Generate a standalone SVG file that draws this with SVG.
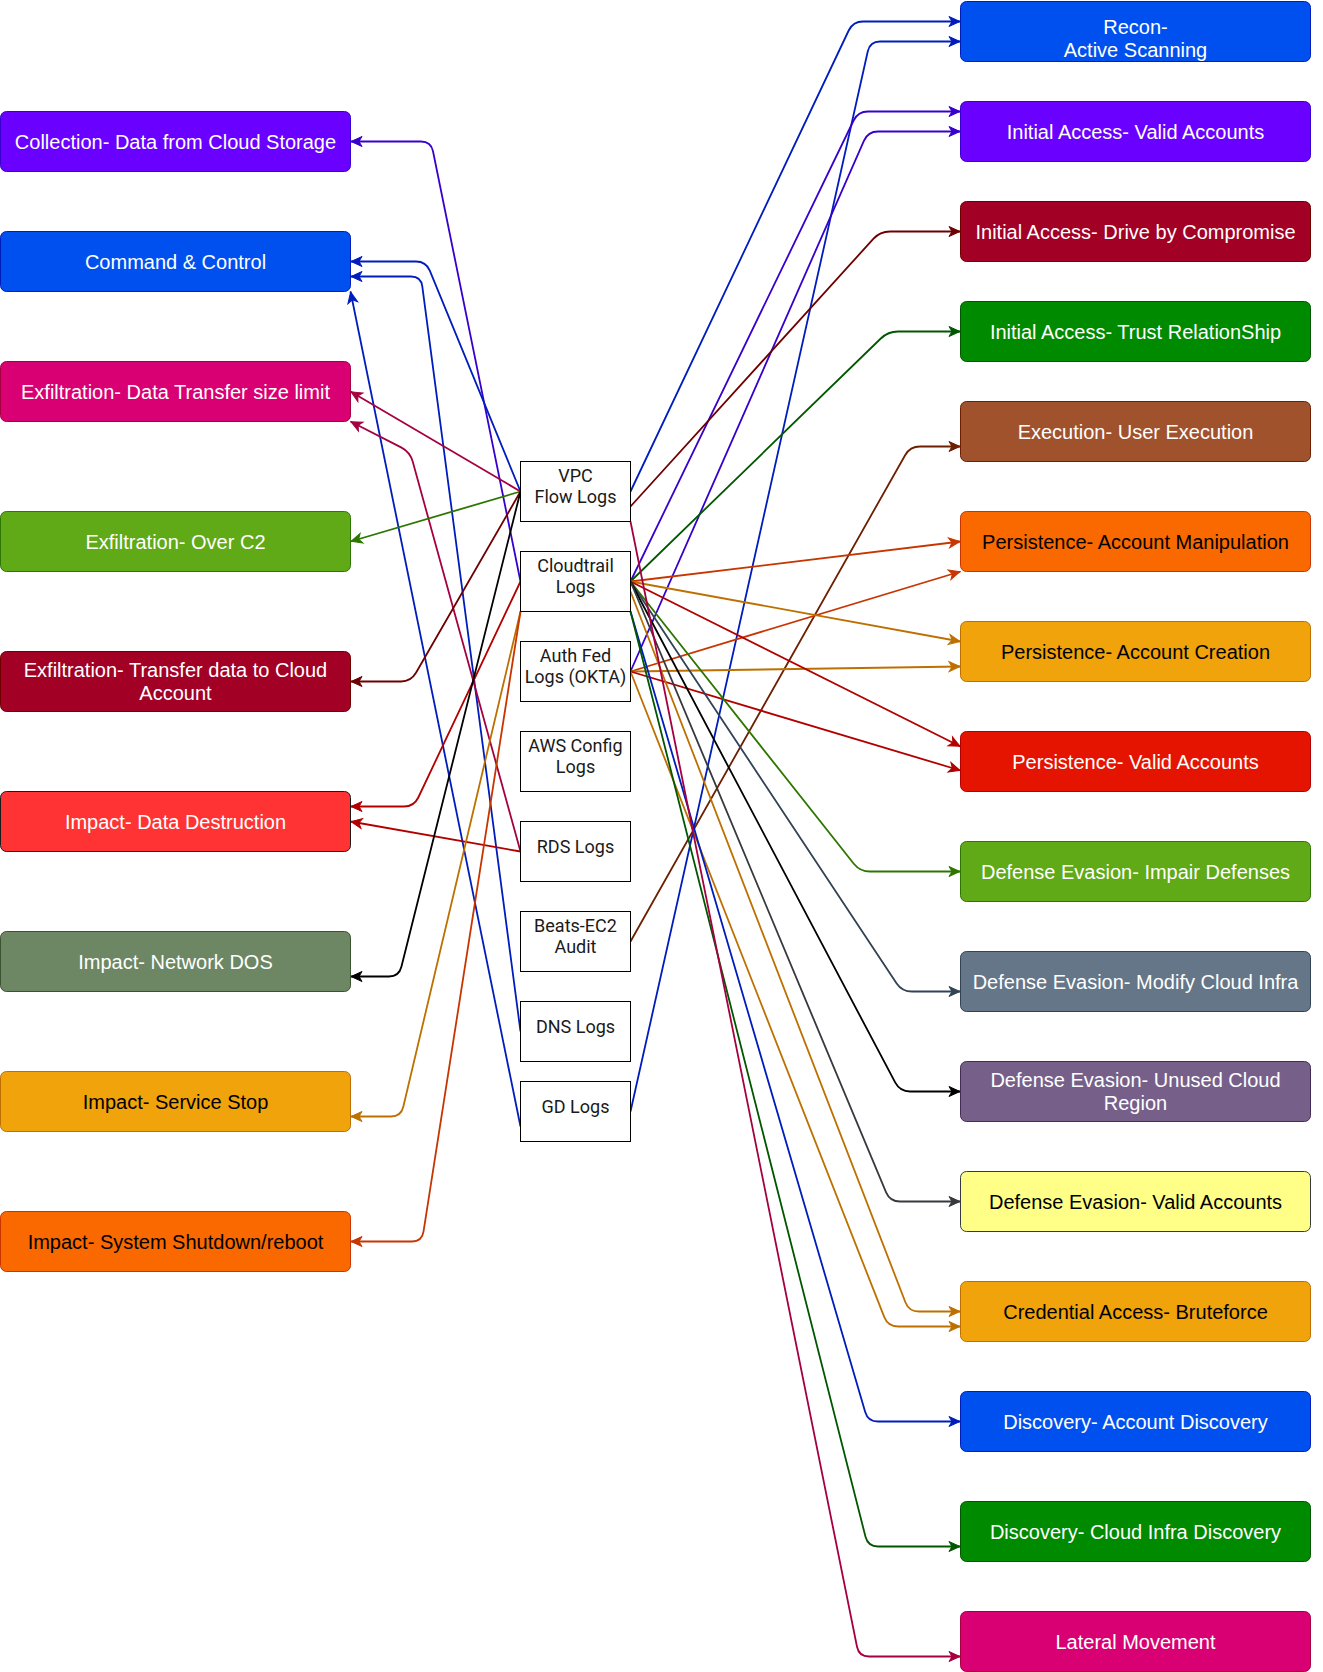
<svg xmlns="http://www.w3.org/2000/svg" width="1323" height="1672" viewBox="0 0 1323 1672">
<style>
.e{fill:none;stroke-width:1.8}
.t{font-family:"Liberation Sans",Arial,sans-serif;font-size:20px;text-anchor:middle}
.w{fill:#ffffff}
.k{fill:#000000}
.c rect{fill:#ffffff;stroke:#000000;stroke-width:1}
.c text{font-family:Roboto,"Liberation Sans",sans-serif;font-size:18px;text-anchor:middle;fill:#1a1a1a}
</style>
<defs>
<marker id="m3700CC" viewBox="-13 -7 14 14" refX="0" refY="0" markerWidth="14" markerHeight="14" markerUnits="userSpaceOnUse" orient="auto"><path d="M-0.5,0 L-11.5,-5 L-8.5,0 L-11.5,5 Z" fill="#3700CC" stroke="#3700CC"/></marker>
<marker id="m001DBC" viewBox="-13 -7 14 14" refX="0" refY="0" markerWidth="14" markerHeight="14" markerUnits="userSpaceOnUse" orient="auto"><path d="M-0.5,0 L-11.5,-5 L-8.5,0 L-11.5,5 Z" fill="#001DBC" stroke="#001DBC"/></marker>
<marker id="mA50040" viewBox="-13 -7 14 14" refX="0" refY="0" markerWidth="14" markerHeight="14" markerUnits="userSpaceOnUse" orient="auto"><path d="M-0.5,0 L-11.5,-5 L-8.5,0 L-11.5,5 Z" fill="#A50040" stroke="#A50040"/></marker>
<marker id="m2D7600" viewBox="-13 -7 14 14" refX="0" refY="0" markerWidth="14" markerHeight="14" markerUnits="userSpaceOnUse" orient="auto"><path d="M-0.5,0 L-11.5,-5 L-8.5,0 L-11.5,5 Z" fill="#2D7600" stroke="#2D7600"/></marker>
<marker id="m6F0000" viewBox="-13 -7 14 14" refX="0" refY="0" markerWidth="14" markerHeight="14" markerUnits="userSpaceOnUse" orient="auto"><path d="M-0.5,0 L-11.5,-5 L-8.5,0 L-11.5,5 Z" fill="#6F0000" stroke="#6F0000"/></marker>
<marker id="mB20000" viewBox="-13 -7 14 14" refX="0" refY="0" markerWidth="14" markerHeight="14" markerUnits="userSpaceOnUse" orient="auto"><path d="M-0.5,0 L-11.5,-5 L-8.5,0 L-11.5,5 Z" fill="#B20000" stroke="#B20000"/></marker>
<marker id="m000000" viewBox="-13 -7 14 14" refX="0" refY="0" markerWidth="14" markerHeight="14" markerUnits="userSpaceOnUse" orient="auto"><path d="M-0.5,0 L-11.5,-5 L-8.5,0 L-11.5,5 Z" fill="#000000" stroke="#000000"/></marker>
<marker id="mBD7000" viewBox="-13 -7 14 14" refX="0" refY="0" markerWidth="14" markerHeight="14" markerUnits="userSpaceOnUse" orient="auto"><path d="M-0.5,0 L-11.5,-5 L-8.5,0 L-11.5,5 Z" fill="#BD7000" stroke="#BD7000"/></marker>
<marker id="mC73500" viewBox="-13 -7 14 14" refX="0" refY="0" markerWidth="14" markerHeight="14" markerUnits="userSpaceOnUse" orient="auto"><path d="M-0.5,0 L-11.5,-5 L-8.5,0 L-11.5,5 Z" fill="#C73500" stroke="#C73500"/></marker>
<marker id="m005700" viewBox="-13 -7 14 14" refX="0" refY="0" markerWidth="14" markerHeight="14" markerUnits="userSpaceOnUse" orient="auto"><path d="M-0.5,0 L-11.5,-5 L-8.5,0 L-11.5,5 Z" fill="#005700" stroke="#005700"/></marker>
<marker id="m6D1F00" viewBox="-13 -7 14 14" refX="0" refY="0" markerWidth="14" markerHeight="14" markerUnits="userSpaceOnUse" orient="auto"><path d="M-0.5,0 L-11.5,-5 L-8.5,0 L-11.5,5 Z" fill="#6D1F00" stroke="#6D1F00"/></marker>
<marker id="m314354" viewBox="-13 -7 14 14" refX="0" refY="0" markerWidth="14" markerHeight="14" markerUnits="userSpaceOnUse" orient="auto"><path d="M-0.5,0 L-11.5,-5 L-8.5,0 L-11.5,5 Z" fill="#314354" stroke="#314354"/></marker>
<marker id="m36393d" viewBox="-13 -7 14 14" refX="0" refY="0" markerWidth="14" markerHeight="14" markerUnits="userSpaceOnUse" orient="auto"><path d="M-0.5,0 L-11.5,-5 L-8.5,0 L-11.5,5 Z" fill="#36393d" stroke="#36393d"/></marker>
</defs>
<rect x="0" y="0" width="1323" height="1672" fill="#ffffff"/>
<g id="connectors">
<path class="e" stroke="#3700CC" marker-end="url(#m3700CC)" d="M520.5,581.5 L433,151.3 Q431,141.5 421,141.5 L350.5,141.5"/>
<path class="e" stroke="#001DBC" marker-end="url(#m001DBC)" d="M520.5,491.5 L429.8,270.7 Q426,261.5 416,261.5 L350.5,261.5"/>
<path class="e" stroke="#001DBC" marker-end="url(#m001DBC)" d="M520.5,1031.5 L422.3,286.4 Q421,276.5 411,276.5 L350.5,276.5"/>
<path class="e" stroke="#001DBC" marker-end="url(#m001DBC)" d="M520.5,1126.5 L350.5,291.5"/>
<path class="e" stroke="#A50040" marker-end="url(#mA50040)" d="M520.5,491.5 L350.5,391.5"/>
<path class="e" stroke="#A50040" marker-end="url(#mA50040)" d="M520.5,851.5 L412.7,461.6 Q410,452 401.1,447.4 L350.5,421.5"/>
<path class="e" stroke="#2D7600" marker-end="url(#m2D7600)" d="M520.5,491.5 L350.5,541.5"/>
<path class="e" stroke="#6F0000" marker-end="url(#m6F0000)" d="M520.5,491.5 L416,672.8 Q411,681.5 401,681.5 L350.5,681.5"/>
<path class="e" stroke="#B20000" marker-end="url(#mB20000)" d="M520.5,581.5 L418.3,797.5 Q414,806.5 404,806.5 L350.5,806.5"/>
<path class="e" stroke="#B20000" marker-end="url(#mB20000)" d="M520.5,851.5 L350.5,821.5"/>
<path class="e" stroke="#000000" marker-end="url(#m000000)" d="M520.5,491.5 L401.4,966.8 Q399,976.5 389,976.5 L350.5,976.5"/>
<path class="e" stroke="#BD7000" marker-end="url(#mBD7000)" d="M520.5,611.5 L403.3,1106.8 Q401,1116.5 391,1116.5 L350.5,1116.5"/>
<path class="e" stroke="#C73500" marker-end="url(#mC73500)" d="M520.5,611.5 L423.5,1231.6 Q422,1241.5 412,1241.5 L350.5,1241.5"/>
<path class="e" stroke="#001DBC" marker-end="url(#m001DBC)" d="M630.5,491.5 L848.7,30.5 Q853,21.5 863,21.5 L960.5,21.5"/>
<path class="e" stroke="#001DBC" marker-end="url(#m001DBC)" d="M630.5,1111.5 L867.8,51.3 Q870,41.5 880,41.5 L960.5,41.5"/>
<path class="e" stroke="#3700CC" marker-end="url(#m3700CC)" d="M630.5,581.5 L853.6,120.5 Q858,111.5 868,111.5 L960.5,111.5"/>
<path class="e" stroke="#3700CC" marker-end="url(#m3700CC)" d="M630.5,671.5 L864,140.7 Q868,131.5 878,131.5 L960.5,131.5"/>
<path class="e" stroke="#6F0000" marker-end="url(#m6F0000)" d="M630.5,506.5 L873.3,238.9 Q880,231.5 890,231.5 L960.5,231.5"/>
<path class="e" stroke="#005700" marker-end="url(#m005700)" d="M630.5,581.5 L880.8,338.5 Q888,331.5 898,331.5 L960.5,331.5"/>
<path class="e" stroke="#6D1F00" marker-end="url(#m6D1F00)" d="M630.5,941.5 L905.1,455.2 Q910,446.5 920,446.5 L960.5,446.5"/>
<path class="e" stroke="#C73500" marker-end="url(#mC73500)" d="M630.5,581.5 L960.5,541.5"/>
<path class="e" stroke="#C73500" marker-end="url(#mC73500)" d="M630.5,671.5 L960.5,571.5"/>
<path class="e" stroke="#BD7000" marker-end="url(#mBD7000)" d="M630.5,581.5 L960.5,641.5"/>
<path class="e" stroke="#BD7000" marker-end="url(#mBD7000)" d="M630.5,671.5 L960.5,666.5"/>
<path class="e" stroke="#B20000" marker-end="url(#mB20000)" d="M630.5,581.5 L960.5,746.5"/>
<path class="e" stroke="#B20000" marker-end="url(#mB20000)" d="M630.5,671.5 L960.5,770.5"/>
<path class="e" stroke="#2D7600" marker-end="url(#m2D7600)" d="M630.5,581.5 L853.8,863.7 Q860,871.5 870,871.5 L960.5,871.5"/>
<path class="e" stroke="#314354" marker-end="url(#m314354)" d="M630.5,581.5 L896.5,983.2 Q902,991.5 912,991.5 L960.5,991.5"/>
<path class="e" stroke="#000000" marker-end="url(#m000000)" d="M630.5,581.5 L895.3,1082.7 Q900,1091.5 910,1091.5 L960.5,1091.5"/>
<path class="e" stroke="#36393d" marker-end="url(#m36393d)" d="M630.5,581.5 L886.1,1192.3 Q890,1201.5 900,1201.5 L960.5,1201.5"/>
<path class="e" stroke="#BD7000" marker-end="url(#mBD7000)" d="M630.5,591.5 L905.4,1302.2 Q909,1311.5 919,1311.5 L960.5,1311.5"/>
<path class="e" stroke="#BD7000" marker-end="url(#mBD7000)" d="M630.5,671.5 L884.3,1317.2 Q888,1326.5 898,1326.5 L960.5,1326.5"/>
<path class="e" stroke="#001DBC" marker-end="url(#m001DBC)" d="M630.5,611.5 L865.2,1411.9 Q868,1421.5 878,1421.5 L960.5,1421.5"/>
<path class="e" stroke="#005700" marker-end="url(#m005700)" d="M630.5,611.5 L865.5,1536.8 Q868,1546.5 878,1546.5 L960.5,1546.5"/>
<path class="e" stroke="#A50040" marker-end="url(#mA50040)" d="M630.5,521.5 L857,1646.7 Q859,1656.5 869,1656.5 L960.5,1656.5"/>
</g>
<g id="collection-cloud-storage"><rect x="0.5" y="111.5" width="350" height="60" rx="6" fill="#6a00ff" stroke="#3700CC"/><text class="t w" x="175.5" y="148.5">Collection- Data from Cloud Storage</text></g>
<g id="command-control"><rect x="0.5" y="231.5" width="350" height="60" rx="6" fill="#0050ef" stroke="#001DBC"/><text class="t w" x="175.5" y="268.5">Command &amp; Control</text></g>
<g id="exfil-size-limit"><rect x="0.5" y="361.5" width="350" height="60" rx="6" fill="#d80073" stroke="#A50040"/><text class="t w" x="175.5" y="398.5">Exfiltration- Data Transfer size limit</text></g>
<g id="exfil-over-c2"><rect x="0.5" y="511.5" width="350" height="60" rx="6" fill="#60a917" stroke="#2D7600"/><text class="t w" x="175.5" y="548.5">Exfiltration- Over C2</text></g>
<g id="exfil-cloud-account"><rect x="0.5" y="651.5" width="350" height="60" rx="6" fill="#a20025" stroke="#6F0000"/><text class="t w" x="175.5" y="677">Exfiltration- Transfer data to Cloud</text><text class="t w" x="175.5" y="700">Account</text></g>
<g id="impact-data-destruction"><rect x="0.5" y="791.5" width="350" height="60" rx="6" fill="#ff3333" stroke="#1a1a1a"/><text class="t w" x="175.5" y="828.5">Impact- Data Destruction</text></g>
<g id="impact-network-dos"><rect x="0.5" y="931.5" width="350" height="60" rx="6" fill="#6d8764" stroke="#3A5431"/><text class="t w" x="175.5" y="968.5">Impact- Network DOS</text></g>
<g id="impact-service-stop"><rect x="0.5" y="1071.5" width="350" height="60" rx="6" fill="#f0a30a" stroke="#BD7000"/><text class="t k" x="175.5" y="1108.5">Impact- Service Stop</text></g>
<g id="impact-system-shutdown"><rect x="0.5" y="1211.5" width="350" height="60" rx="6" fill="#fa6800" stroke="#C73500"/><text class="t k" x="175.5" y="1248.5">Impact- System Shutdown/reboot</text></g>
<g id="vpc-flow-logs" class="c"><rect x="520.5" y="461.5" width="110" height="60"/><text x="575.5" y="481.5">VPC</text><text x="575.5" y="503.1">Flow Logs</text></g>
<g id="cloudtrail-logs" class="c"><rect x="520.5" y="551.5" width="110" height="60"/><text x="575.5" y="571.5">Cloudtrail</text><text x="575.5" y="593.1">Logs</text></g>
<g id="auth-fed-logs" class="c"><rect x="520.5" y="641.5" width="110" height="60"/><text x="575.5" y="661.5">Auth Fed</text><text x="575.5" y="683.1">Logs (OKTA)</text></g>
<g id="aws-config-logs" class="c"><rect x="520.5" y="731.5" width="110" height="60"/><text x="575.5" y="751.5">AWS Config</text><text x="575.5" y="773.1">Logs</text></g>
<g id="rds-logs" class="c"><rect x="520.5" y="821.5" width="110" height="60"/><text x="575.5" y="852.5">RDS Logs</text></g>
<g id="beats-ec2-audit" class="c"><rect x="520.5" y="911.5" width="110" height="60"/><text x="575.5" y="931.5">Beats-EC2</text><text x="575.5" y="953.1">Audit</text></g>
<g id="dns-logs" class="c"><rect x="520.5" y="1001.5" width="110" height="60"/><text x="575.5" y="1032.5">DNS Logs</text></g>
<g id="gd-logs" class="c"><rect x="520.5" y="1081.5" width="110" height="60"/><text x="575.5" y="1112.5">GD Logs</text></g>
<g id="recon-active-scanning"><rect x="960.5" y="1.5" width="350" height="60" rx="6" fill="#0050ef" stroke="#001DBC"/><text class="t w" x="1135.5" y="34">Recon-</text><text class="t w" x="1135.5" y="57">Active Scanning</text></g>
<g id="initial-access-valid-accounts"><rect x="960.5" y="101.5" width="350" height="60" rx="6" fill="#6a00ff" stroke="#3700CC"/><text class="t w" x="1135.5" y="138.5">Initial Access- Valid Accounts</text></g>
<g id="initial-access-drive-by"><rect x="960.5" y="201.5" width="350" height="60" rx="6" fill="#a20025" stroke="#6F0000"/><text class="t w" x="1135.5" y="238.5">Initial Access- Drive by Compromise</text></g>
<g id="initial-access-trust"><rect x="960.5" y="301.5" width="350" height="60" rx="6" fill="#008a00" stroke="#005700"/><text class="t w" x="1135.5" y="338.5">Initial Access- Trust RelationShip</text></g>
<g id="execution-user-execution"><rect x="960.5" y="401.5" width="350" height="60" rx="6" fill="#a0522d" stroke="#6D1F00"/><text class="t w" x="1135.5" y="438.5">Execution- User Execution</text></g>
<g id="persistence-account-manipulation"><rect x="960.5" y="511.5" width="350" height="60" rx="6" fill="#fa6800" stroke="#C73500"/><text class="t k" x="1135.5" y="548.5">Persistence- Account Manipulation</text></g>
<g id="persistence-account-creation"><rect x="960.5" y="621.5" width="350" height="60" rx="6" fill="#f0a30a" stroke="#BD7000"/><text class="t k" x="1135.5" y="658.5">Persistence- Account Creation</text></g>
<g id="persistence-valid-accounts"><rect x="960.5" y="731.5" width="350" height="60" rx="6" fill="#e51400" stroke="#B20000"/><text class="t w" x="1135.5" y="768.5">Persistence- Valid Accounts</text></g>
<g id="defense-evasion-impair"><rect x="960.5" y="841.5" width="350" height="60" rx="6" fill="#60a917" stroke="#2D7600"/><text class="t w" x="1135.5" y="878.5">Defense Evasion- Impair Defenses</text></g>
<g id="defense-evasion-modify"><rect x="960.5" y="951.5" width="350" height="60" rx="6" fill="#647687" stroke="#314354"/><text class="t w" x="1135.5" y="988.5">Defense Evasion- Modify Cloud Infra</text></g>
<g id="defense-evasion-unused-region"><rect x="960.5" y="1061.5" width="350" height="60" rx="6" fill="#76608a" stroke="#432D57"/><text class="t w" x="1135.5" y="1087">Defense Evasion- Unused Cloud</text><text class="t w" x="1135.5" y="1110">Region</text></g>
<g id="defense-evasion-valid-accounts"><rect x="960.5" y="1171.5" width="350" height="60" rx="6" fill="#ffff88" stroke="#36393d"/><text class="t k" x="1135.5" y="1208.5">Defense Evasion- Valid Accounts</text></g>
<g id="credential-access-bruteforce"><rect x="960.5" y="1281.5" width="350" height="60" rx="6" fill="#f0a30a" stroke="#BD7000"/><text class="t k" x="1135.5" y="1318.5">Credential Access- Bruteforce</text></g>
<g id="discovery-account"><rect x="960.5" y="1391.5" width="350" height="60" rx="6" fill="#0050ef" stroke="#001DBC"/><text class="t w" x="1135.5" y="1428.5">Discovery- Account Discovery</text></g>
<g id="discovery-cloud-infra"><rect x="960.5" y="1501.5" width="350" height="60" rx="6" fill="#008a00" stroke="#005700"/><text class="t w" x="1135.5" y="1538.5">Discovery- Cloud Infra Discovery</text></g>
<g id="lateral-movement"><rect x="960.5" y="1611.5" width="350" height="60" rx="6" fill="#d80073" stroke="#A50040"/><text class="t w" x="1135.5" y="1648.5">Lateral Movement</text></g>
</svg>
